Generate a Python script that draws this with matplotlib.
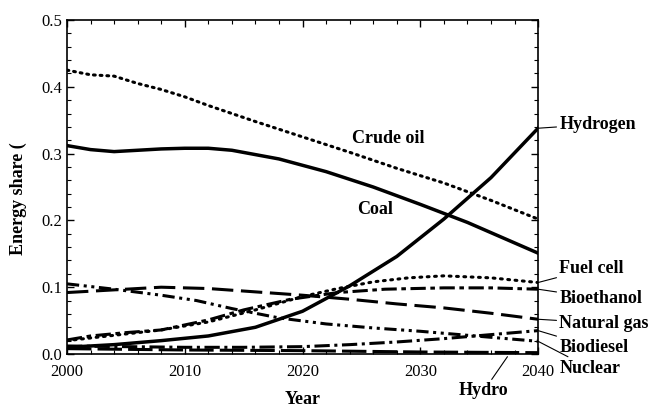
import matplotlib.pyplot as plt
from matplotlib.ticker import MultipleLocator

plt.rcParams.update({
    "font.family": ["Liberation Serif", "DejaVu Serif"],
    "font.size": 11,
    "axes.linewidth": 1.2,
    "xtick.direction": "in",
    "ytick.direction": "in",
    "xtick.top": True,
    "ytick.right": True,
})

# values (year, energy share)
yr_crude = [2000, 2002, 2004, 2006, 2008, 2010, 2012, 2016, 2020, 2024, 2028, 2032, 2036, 2040]
crude_oil = [0.425, 0.418, 0.416, 0.405, 0.396, 0.385, 0.372, 0.348, 0.325, 0.302, 0.278, 0.256, 0.230, 0.202]

yr_coal = [2000, 2002, 2004, 2006, 2008, 2010, 2012, 2014, 2018, 2022, 2026, 2030, 2034, 2040]
coal = [0.312, 0.306, 0.303, 0.305, 0.307, 0.308, 0.308, 0.305, 0.292, 0.273, 0.250, 0.224, 0.197, 0.151]

yr_h2 = [2000, 2004, 2008, 2012, 2016, 2020, 2024, 2028, 2032, 2036, 2040]
hydrogen = [0.010, 0.014, 0.020, 0.027, 0.040, 0.064, 0.102, 0.146, 0.202, 0.264, 0.338]

yr_fc = [2000, 2004, 2008, 2012, 2016, 2020, 2023, 2026, 2029, 2032, 2036, 2040]
fuel_cell = [0.020, 0.028, 0.036, 0.048, 0.066, 0.086, 0.098, 0.108, 0.114, 0.117, 0.114, 0.107]

yr_beth = [2000, 2002, 2005, 2008, 2012, 2015, 2019, 2023, 2027, 2032, 2036, 2040]
bioethanol = [0.021, 0.027, 0.032, 0.036, 0.051, 0.066, 0.082, 0.092, 0.097, 0.099, 0.099, 0.097]

yr_ng = [2000, 2004, 2008, 2012, 2016, 2020, 2024, 2028, 2032, 2036, 2040]
natural_gas = [0.092, 0.096, 0.100, 0.098, 0.093, 0.088, 0.082, 0.075, 0.069, 0.061, 0.052]

yr_nuc = [2000, 2004, 2008, 2011, 2014, 2018, 2022, 2026, 2030, 2034, 2040]
nuclear = [0.105, 0.097, 0.088, 0.080, 0.068, 0.054, 0.045, 0.039, 0.034, 0.028, 0.019]

yr_bd = [2000, 2005, 2010, 2015, 2020, 2024, 2028, 2032, 2036, 2040]
biodiesel = [0.012, 0.011, 0.010, 0.010, 0.011, 0.014, 0.018, 0.023, 0.029, 0.035]

yr_hydro = [2000, 2010, 2020, 2030, 2040]
hydro = [0.008, 0.006, 0.005, 0.003, 0.002]

fig = plt.figure(figsize=(6.53, 4.11), dpi=100)
ax = fig.add_axes([0.1026, 0.1387, 0.7214, 0.8126])

lw = 2.2
ax.plot(yr_crude, crude_oil, color="k", lw=lw, linestyle=(0, (0.6, 1.6)), dash_capstyle="round")
ax.plot(yr_coal, coal, color="k", lw=2.5)
ax.plot(yr_h2, hydrogen, color="k", lw=2.5)
ax.plot(yr_fc, fuel_cell, color="k", lw=lw, linestyle=(0, (0.6, 1.8)), dash_capstyle="round")
ax.plot(yr_beth, bioethanol, color="k", lw=lw, linestyle=(0, (5, 1.5, 1.5, 1.5)))
ax.plot(yr_ng, natural_gas, color="k", lw=lw, linestyle=(0, (7, 2.5)))
ax.plot(yr_nuc, nuclear, color="k", lw=lw, linestyle=(0, (4, 1.5, 1, 1.5, 1, 1.5)))
ax.plot(yr_bd, biodiesel, color="k", lw=lw, linestyle=(0, (5, 1.5, 1, 1.5)))
ax.plot(yr_hydro, hydro, color="k", lw=lw, linestyle=(0, (8, 2)))

ax.set_xlim(2000, 2040)
ax.set_ylim(0, 0.5)
ax.xaxis.set_major_locator(MultipleLocator(10))
ax.xaxis.set_minor_locator(MultipleLocator(2))
ax.yaxis.set_major_locator(MultipleLocator(0.1))
ax.yaxis.set_minor_locator(MultipleLocator(0.02))
ax.yaxis.set_major_formatter(lambda v, p: f"{v:.1f}")
ax.tick_params(which="major", length=5, width=1.0, labelsize=12)
ax.tick_params(axis="x", which="major", pad=7)
ax.tick_params(which="minor", length=3, width=0.8)

ax.set_xlabel("Year", fontsize=13, fontweight="bold", labelpad=8)
fig.text(0.028, 1 - 255 / 411, "Energy share (", rotation=90, ha="center", va="bottom",
         fontsize=13, fontweight="bold")

bold = dict(fontsize=13, fontweight="bold", color="k")
ax.text(2027.3, 0.323, "Crude oil", ha="center", va="center", **bold)
ax.text(2026.2, 0.216, "Coal", ha="center", va="center", **bold)

arrow = dict(arrowstyle="-", color="k", lw=0.8, shrinkA=0, shrinkB=0)
side = [
    ("Hydrogen", 0.338, 0.344),
    ("Fuel cell", 0.107, 0.128),
    ("Bioethanol", 0.097, 0.083),
    ("Natural gas", 0.052, 0.046),
    ("Biodiesel", 0.035, 0.010),
    ("Nuclear", 0.019, -0.021),
]
for name, y_end, y_txt in side:
    ax.annotate(name, xy=(2040, y_end), xytext=(2041.8, y_txt), ha="left", va="center",
                arrowprops=arrow, annotation_clip=False, **bold)
ax.annotate("Hydro", xy=(2037.4, -0.004), xytext=(2035.4, -0.055), ha="center", va="center",
            arrowprops=dict(arrowstyle="-", color="k", lw=0.8, shrinkA=0, shrinkB=0),
            annotation_clip=False, **bold)

fig.savefig("out.png", dpi=100)
